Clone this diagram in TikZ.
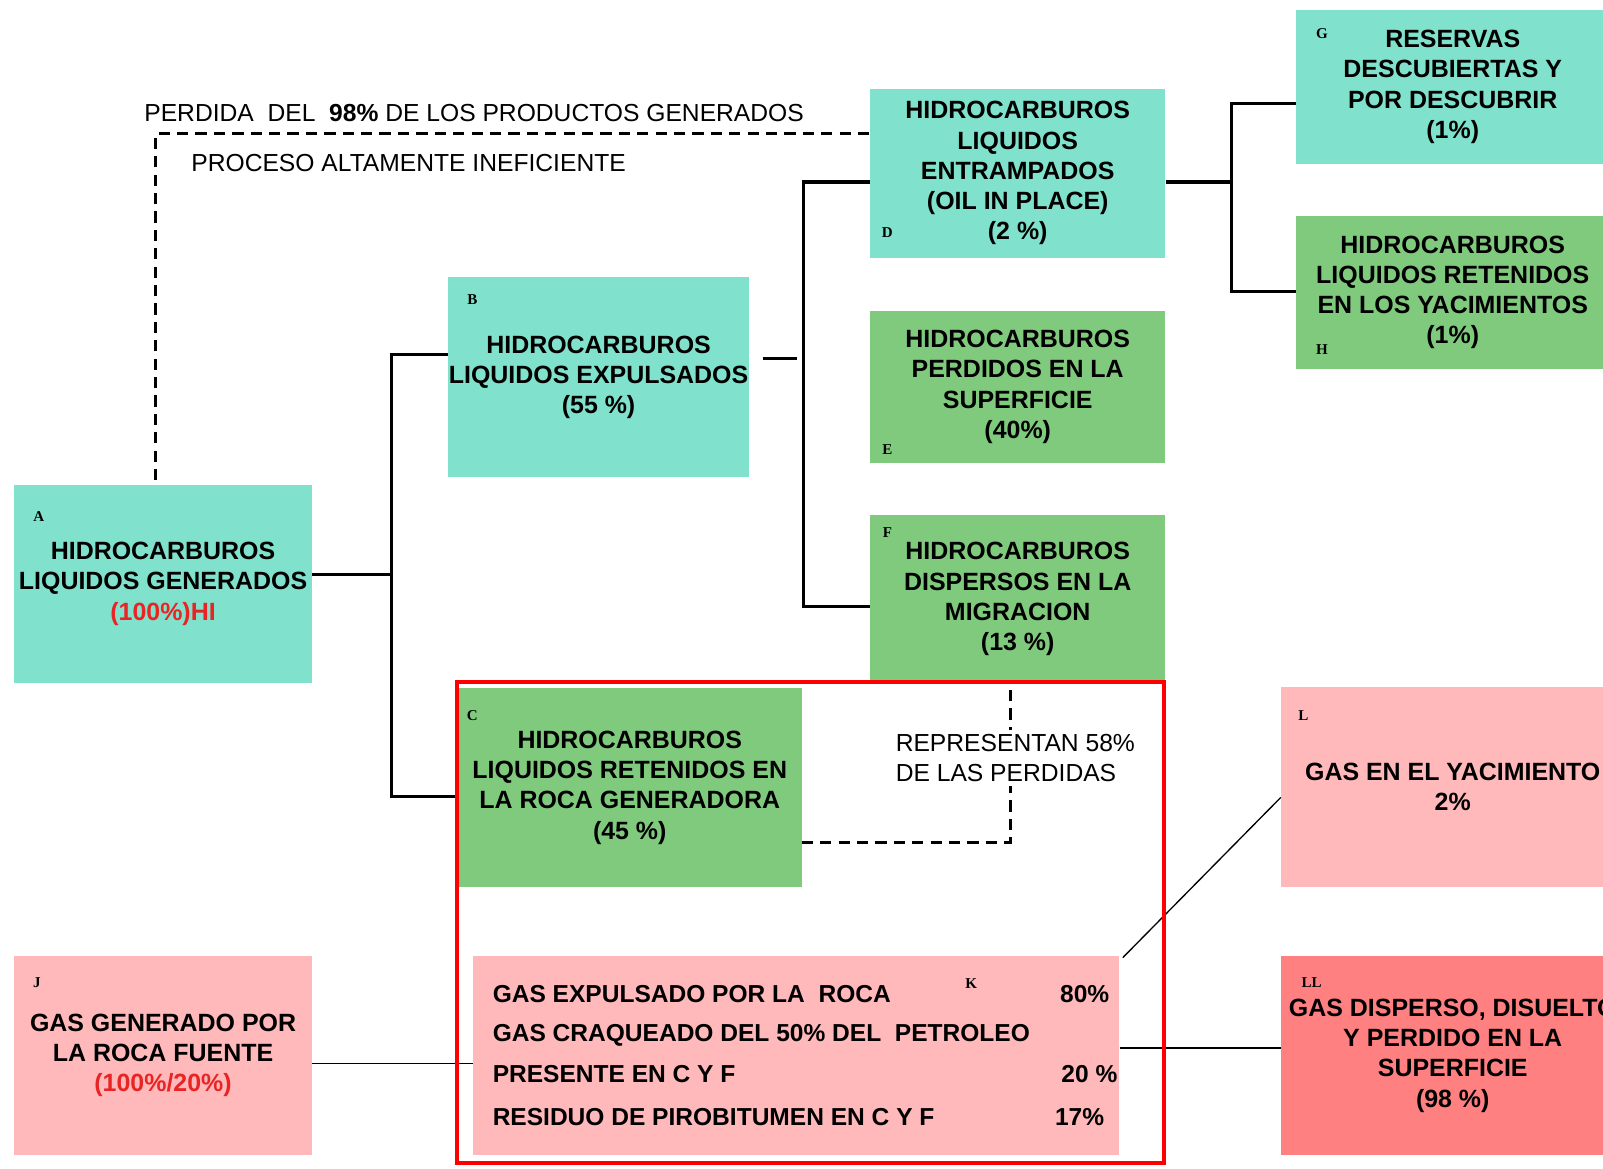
\documentclass[tikz,border=0pt]{standalone}
\usepackage{fontspec}
\setmainfont{Liberation Sans}
\newfontfamily\serifletter{Liberation Serif}
\usetikzlibrary{calc}

\definecolor{turq}{RGB}{128,226,205}
\definecolor{gren}{RGB}{128,202,126}
\definecolor{rosa}{RGB}{255,185,186}
\definecolor{rojo}{RGB}{255,128,128}
\definecolor{redtext}{RGB}{232,36,36}

\newcommand{\boxfont}{\fontsize{24.4}{29.6}\selectfont\bfseries}
\newcommand{\notefont}{\fontsize{24.1}{29}\selectfont}
\newcommand{\tagfont}{\serifletter\fontsize{14.7}{15}\selectfont\bfseries}
\newcommand{\krow}[2]{\makebox[628pt][l]{\hspace*{17pt}#1\hfill#2}}

\tikzset{
	box/.style={inner sep=0pt, align=center, font=\boxfont},
	tag/.style={inner sep=0pt, font=\tagfont},
	note/.style={inner sep=0pt, font=\notefont},
	conn/.style={line width=3pt},
	fine/.style={line width=1.3pt},
	lossline/.style={line width=3pt, dash pattern=on 11pt off 7pt}
}

\begin{document}
\begin{tikzpicture}[x=1pt, y=-1pt]
		\useasboundingbox (0,0) rectangle (1568,1142.5);
		\clip (0,0) rectangle (1568,1142.5);
		% liquid hydrocarbons
		\node[box, fill=turq, minimum width=291pt, minimum height=194pt] (A) at (159.5,571) {HIDROCARBUROS\\LIQUIDOS GENERADOS\\\textcolor{redtext}{(100\%)HI}};
		\node[box, fill=turq, minimum width=295pt, minimum height=196pt] (B) at (585.5,369) {HIDROCARBUROS\\LIQUIDOS EXPULSADOS\\(55 \%)};
		\node[box, fill=gren, minimum width=336pt, minimum height=195pt] (C) at (616,770.5) {HIDROCARBUROS\\LIQUIDOS RETENIDOS EN\\LA ROCA GENERADORA\\(45 \%)};
		\node[box, fill=turq, minimum width=289pt, minimum height=165pt] (D) at (995.5,169.5) {HIDROCARBUROS\\LIQUIDOS\\ENTRAMPADOS\\(OIL IN PLACE)\\(2 \%)};
		\node[box, fill=gren, minimum width=289pt, minimum height=149pt] (E) at (995.5,378.5) {HIDROCARBUROS\\PERDIDOS EN LA\\SUPERFICIE\\(40\%)};
		\node[box, fill=gren, minimum width=289pt, minimum height=164pt] (F) at (995.5,586) {HIDROCARBUROS\\DISPERSOS EN LA\\MIGRACION\\(13 \%)};
		\node[box, fill=turq, minimum width=306pt, minimum height=150pt] (G) at (1421,85) {RESERVAS\\DESCUBIERTAS Y\\POR DESCUBRIR\\(1\%)};
		\node[box, fill=gren, minimum width=306pt, minimum height=150pt] (H) at (1421,286) {HIDROCARBUROS\\LIQUIDOS RETENIDOS\\EN LOS YACIMIENTOS\\(1\%)};
		% gas
		\node[box, fill=rosa, minimum width=291pt, minimum height=195pt] (J) at (159.5,1032.5) {GAS GENERADO POR\\LA ROCA FUENTE\\\textcolor{redtext}{(100\%/20\%)}};
		\node[box, fill=rosa, minimum width=632pt, minimum height=195pt, align=left, font=\fontsize{24}{29.6}\selectfont\bfseries] (K) at (779,1032.5) {\krow{GAS EXPULSADO POR LA~ ROCA}{80\%\hspace*{8pt}}\\[8pt]\krow{GAS CRAQUEADO DEL 50\% DEL~ PETROLEO}{}\\[11pt]\krow{PRESENTE EN C Y F}{20 \%}\\[12pt]\krow{RESIDUO DE PIROBITUMEN EN C Y F}{17\%\hspace*{13pt}}};
		\node[box, fill=rosa, minimum width=336pt, minimum height=196pt] (L) at (1421,770) {GAS EN EL YACIMIENTO\\2\%};
		\node[box, fill=rojo, minimum width=336pt, minimum height=195pt] (LL) at (1421,1032.5) {GAS DISPERSO, DISUELTO\\Y PERDIDO EN LA\\SUPERFICIE\\(98 \%)};
		% letters
		\node[tag] (tA) at (38,505) {A};
		\node[tag] (tB) at (462,293) {B};
		\node[tag] (tC) at (462,700) {C};
		\node[tag] (tD) at (868,228) {D};
		\node[tag] (tE) at (868,440) {E};
		\node[tag] (tF) at (868,521) {F};
		\node[tag] (tG) at (1293,33) {G};
		\node[tag] (tH) at (1293,342) {H};
		\node[tag] (tJ) at (36,961) {J};
		\node[tag] (tK) at (950,962) {K};
		\node[tag] (tL) at (1275,700) {L};
		\node[tag] (tLL) at (1283,961) {LL};
		% tree
		\coordinate (kA) at (383,562);
		\coordinate (kB) at (786,385);
		\coordinate (kD) at (1205,178);
		\draw[conn] ([yshift=9pt]A.east) -- (kA);
		\draw[conn] ([yshift=22pt]B.west) -| (kA) |- ([yshift=-8.5pt]C.west);
		\draw[conn, shorten <=13pt, shorten >=7pt] ([yshift=18pt]B.east) -- ++(53,0);
		\draw[conn] ([yshift=-8.5pt]D.west) -| (kB) |- ([yshift=-7pt]F.west);
		\draw[conn] ([yshift=-8.5pt]D.east) -- (kD);
		\draw[conn] ([yshift=-16pt]G.west) -| (kD) |- ([yshift=1pt]H.west);
		\draw[lossline] ([xshift=-7.5pt,yshift=4pt]A.north) |- ([yshift=38.5pt]D.west);
		\node[note, anchor=base west] (perdida) at (141,119) {PERDIDA~ DEL~ \textbf{98\%} DE LOS PRODUCTOS GENERADOS};
		\node[note, anchor=base west] (proceso) at (187,168) {PROCESO ALTAMENTE INEFICIENTE};
		% gas lines
		\draw[fine] ([yshift=-7.5pt]J.east) -- ([yshift=-7.5pt]K.west);
		\draw[fine] ([xshift=3pt,yshift=-2pt]K.north east) -- ([yshift=-10pt]L.west);
		\draw[fine] ([yshift=7.5pt]K.east) -- ([yshift=7.5pt]LL.west);
		% lost 58%
		\draw[red, line width=4pt] (447,667) rectangle (1139,1138);
		\draw[lossline] ([yshift=-53.5pt]C.east) -| ([xshift=-7.5pt,yshift=-5pt]F.south);
		\node[note, fill=white, align=left, inner sep=4pt, anchor=west] (repr) at (872,741.5) {REPRESENTAN 58\%\\DE LAS PERDIDAS};
\end{tikzpicture}
\end{document}
